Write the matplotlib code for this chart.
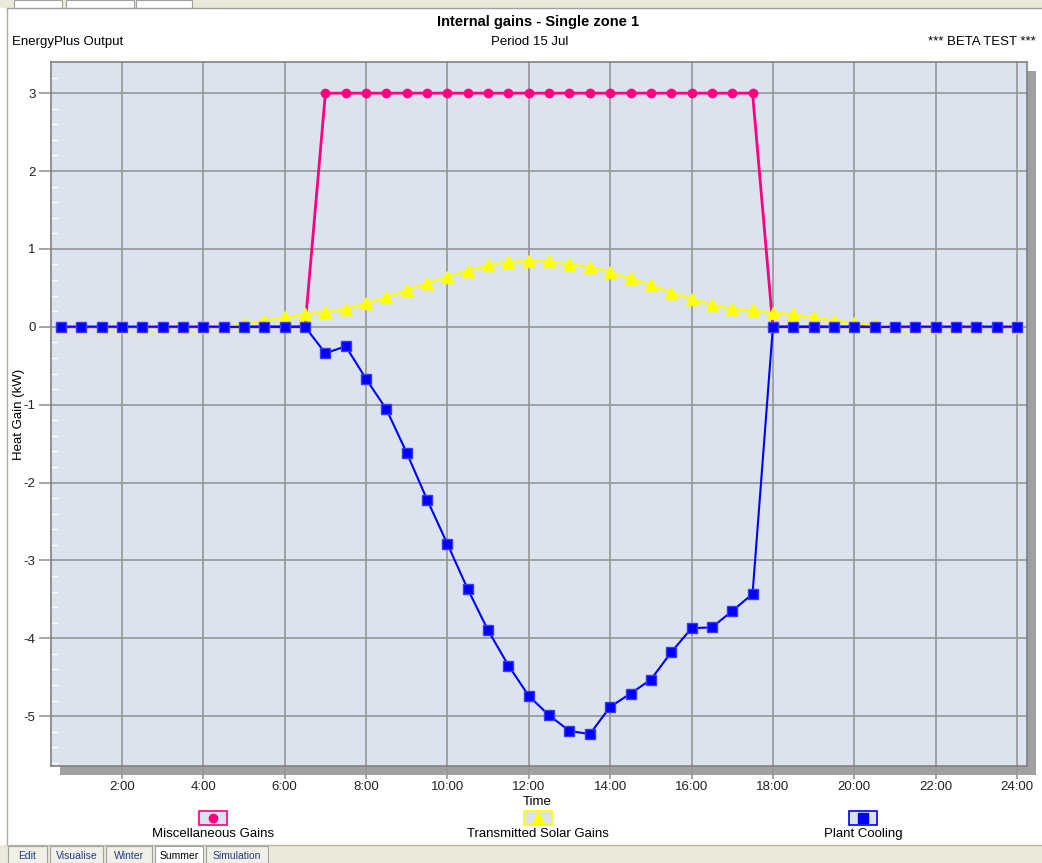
import numpy as np
import matplotlib
matplotlib.use('Agg')
import matplotlib.pyplot as plt
from matplotlib.patches import Rectangle
from matplotlib.lines import Line2D
from matplotlib.ticker import MultipleLocator, FixedLocator

plt.rcParams['font.family'] = ['Liberation Sans', 'DejaVu Sans']
plt.rcParams['axes.unicode_minus'] = False

# time in hours, half-hourly steps
hours = [0.5 * i for i in range(1, 49)]
hour_ticks = [2, 4, 6, 8, 10, 12, 14, 16, 18, 20, 22, 24]
hour_labels = ['2:00', '4:00', '6:00', '8:00', '10:00', '12:00', '14:00',
               '16:00', '18:00', '20:00', '22:00', '24:00']

misc_gains = [0.0] * 13 + [3.0] * 22 + [0.0] * 13

solar_gains = [0.0] * 8 + [
    0.0, 0.03, 0.08, 0.12, 0.16, 0.19, 0.23, 0.30, 0.38, 0.47, 0.56, 0.64,
    0.72, 0.79, 0.83, 0.85, 0.84, 0.80, 0.77, 0.70, 0.62, 0.54, 0.44, 0.36,
    0.28, 0.23, 0.21, 0.18, 0.16, 0.12, 0.08, 0.05, 0.02] + [0.0] * 7

plant_cooling = [0.0] * 13 + [
    -0.34, -0.25, -0.67, -1.06, -1.62, -2.22, -2.79, -3.37, -3.90, -4.35,
    -4.74, -4.99, -5.19, -5.23, -4.88, -4.71, -4.53, -4.18, -3.87, -3.86,
    -3.65, -3.43] + [0.0] * 13

series_names = ['Miscellaneous Gains', 'Transmitted Solar Gains', 'Plant Cooling']
pink = '#ff0080'
yellow = '#ffff00'
blue = '#0000ff'
bg = '#dae3ee'
grid_c = '#969696'

W, H = 1042, 863
fig = plt.figure(figsize=(W / 100, H / 100), dpi=100)
fig.patch.set_facecolor('white')

def fx(px):
    return px / W

def fy(py):
    return 1 - py / H

# window chrome: top and bottom beige bands, left border
fig.patches.append(Rectangle((0, fy(8)), 1, 8 / H, transform=fig.transFigure,
                             facecolor='#ece9d8', edgecolor='none', zorder=-2))
fig.patches.append(Rectangle((0, 0), 1, 18 / H, transform=fig.transFigure,
                             facecolor='#ece9d8', edgecolor='none', zorder=-2))
fig.lines.append(Line2D([fx(7), fx(7)], [fy(845), fy(8)], transform=fig.transFigure,
                        color='#b0aca0', lw=1))
fig.lines.append(Line2D([fx(7), 1], [fy(8), fy(8)], transform=fig.transFigure,
                        color='#a0a0a0', lw=1))
fig.lines.append(Line2D([fx(7), 1], [fy(845), fy(845)], transform=fig.transFigure,
                        color='#b8b4a8', lw=1))
# top tab fragments
for x0, x1 in [(14, 62), (66, 134), (136, 192)]:
    fig.patches.append(Rectangle((fx(x0), fy(8)), fx(x1 - x0), 8 / H,
                                 transform=fig.transFigure, facecolor='white',
                                 edgecolor='#a0a0a0', lw=0.8, zorder=1))

# bottom tabs
tabs = [('Edit', 8, 47), ('Visualise', 50, 103), ('Winter', 106, 152),
        ('Summer', 155, 203), ('Simulation', 206, 268)]
for name, x0, x1 in tabs:
    active = name == 'Summer'
    fig.patches.append(Rectangle((fx(x0), 0), fx(x1 - x0), 17 / H,
                                 transform=fig.transFigure,
                                 facecolor='white' if active else '#f0efe8',
                                 edgecolor='#a0a0a0', lw=0.8, zorder=1))
    fig.text(fx((x0 + x1) / 2), fy(856), name, ha='center', va='center',
             fontsize=7.5, color='black' if active else '#1f3c88')

# plot area and its shadow
left, right, top, bottom = 51, 1027, 62, 766
fig.patches.append(Rectangle((fx(left + 9), fy(bottom + 9)), fx(right - left),
                             (bottom - top) / H, transform=fig.transFigure,
                             facecolor='#a0a0a0', edgecolor='none', zorder=-1))
ax = fig.add_axes([fx(left), fy(bottom), fx(right - left), (bottom - top) / H])
ax.set_zorder(1)
ax.set_facecolor(bg)

ax.plot(hours, misc_gains, color=pink, lw=2.0, marker='o', ms=6,
        markeredgecolor=pink, zorder=3)
ax.plot(hours, solar_gains, color=yellow, lw=1.6, marker='^', ms=8,
        markeredgecolor=yellow, zorder=4)
ax.plot(hours, plant_cooling, color=blue, lw=1.5, marker='s', ms=7.5,
        markeredgecolor='#3a3aff', zorder=5)

ax.set_xlim(0.255, 24.246)
ax.set_ylim(-5.64, 3.40)
ax.xaxis.set_major_locator(FixedLocator(hour_ticks))
ax.set_xticklabels(hour_labels)
ax.yaxis.set_major_locator(MultipleLocator(1))
ax.yaxis.set_minor_locator(MultipleLocator(0.2))
ax.grid(True, which='major', color=grid_c, lw=1.2)
ax.set_axisbelow(True)
ax.tick_params(axis='both', which='major', labelsize=9.5, color=grid_c,
               length=9, width=1.2, labelcolor='#222222', pad=2)
ax.tick_params(axis='y', which='minor', direction='in', color='white',
               length=5, width=1)
for s in ax.spines.values():
    s.set_color('#808080')
    s.set_linewidth(1.2)

ax.set_ylabel('Heat Gain (kW)', fontsize=9.5)
ax.yaxis.label.set_va('center')
ax.yaxis.set_label_coords((19 - left) / (right - left), 0.5)
fig.text(fx(537), fy(802), 'Time', ha='center', va='center', fontsize=9.5)

# titles
fig.text(fx(538), fy(22), 'Internal gains - Single zone 1', ha='center',
         va='center', fontsize=10.5, fontweight='bold')
fig.text(fx(12), fy(42), 'EnergyPlus Output', ha='left', va='center', fontsize=9.5)
fig.text(fx(530), fy(42), 'Period 15 Jul', ha='center', va='center', fontsize=9.5)
fig.text(fx(1036), fy(42), '*** BETA TEST ***', ha='right', va='center', fontsize=9.5)

# legend
leg_x = [213, 538, 863]
leg_style = [(pink, 'o', 6), (yellow, '^', 8), (blue, 's', 6.5)]
for name, cx, (c, m, ms) in zip(series_names, leg_x, leg_style):
    fig.patches.append(Rectangle((fx(cx - 14), fy(825)), fx(28), 14 / H,
                                 transform=fig.transFigure, facecolor=bg,
                                 edgecolor=c, lw=1.2, zorder=2))
    fig.lines.append(Line2D([fx(cx)], [fy(818)], transform=fig.transFigure,
                            marker=m, ms=ms, color=c, markeredgecolor=c,
                            lw=0, zorder=3))
    fig.text(fx(cx), fy(834), name, ha='center', va='center', fontsize=9.5)

fig.savefig('out.png', dpi=100)
